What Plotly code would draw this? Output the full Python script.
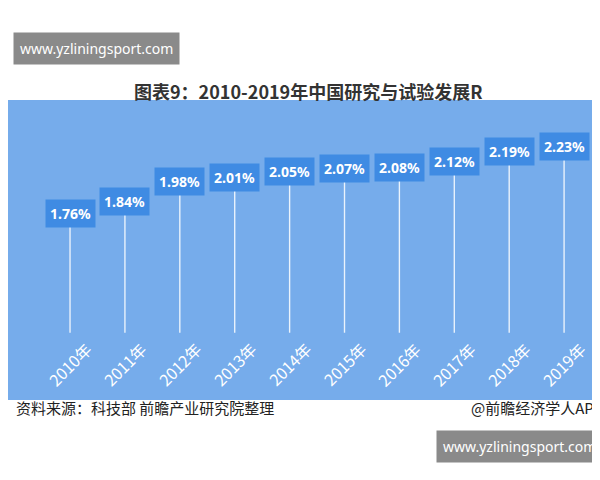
import plotly.graph_objects as go

years = ["2010年","2011年","2012年","2013年","2014年","2015年","2016年","2017年","2018年","2019年"]
values = [1.76,1.84,1.98,2.01,2.05,2.07,2.08,2.12,2.19,2.23]
base = 0.92

fig = go.Figure()
fig.add_trace(go.Bar(x=list(range(10)), y=[v-base for v in values], base=base, width=0.025,
                     marker=dict(color="rgba(255,255,255,0.85)", line_width=0), hoverinfo="skip"))
for i, v in enumerate(values):
    fig.add_annotation(x=i, y=v, text="<b>%.2f%%</b>" % v, showarrow=False, bgcolor="#3f8be3",
                       font=dict(color="white", size=14, family="Noto Sans"), borderpad=4)
    fig.add_annotation(x=i, y=0.7, text=years[i], showarrow=False, textangle=-45,
                       font=dict(color="white", size=16, family="Noto Sans CJK SC"))
fig.add_annotation(xref="paper", yref="paper", x=0.5, y=1.08, text="<b>图表9：2010-2019年中国研究与试验发展R</b>",
                   showarrow=False, font=dict(size=18, color="#333", family="Noto Sans CJK SC"))
fig.add_annotation(xref="paper", yref="paper", x=0.01, y=-0.067, xanchor="left", text="资料来源：科技部 前瞻产业研究院整理",
                   showarrow=False, font=dict(size=15, color="#222", family="Noto Sans CJK SC"))
fig.add_annotation(xref="paper", yref="paper", x=0.995, y=-0.067, xanchor="right", text="@前瞻经济学人APP",
                   showarrow=False, font=dict(size=15, color="#222", family="Noto Sans CJK SC"))
fig.add_annotation(xref="paper", yref="paper", x=0.008, y=1.227, xanchor="left", text="www.yzliningsport.com",
                   showarrow=False, bgcolor="#8a8a8a", borderpad=6, font=dict(size=14, color="white", family="Noto Sans"))
fig.add_annotation(xref="paper", yref="paper", x=0.992, y=-0.21, xanchor="right", text="www.yzliningsport.com",
                   showarrow=False, bgcolor="#8a8a8a", borderpad=6, font=dict(size=14, color="white", family="Noto Sans"))
fig.update_layout(width=600, height=480, margin=dict(l=0, r=0, t=92, b=88),
                  plot_bgcolor="#76aceb", paper_bgcolor="white", showlegend=False,
                  xaxis=dict(range=[-1.13, 9.8], visible=False),
                  yaxis=dict(range=[0.448, 2.553], visible=False))
fig.write_html("out.html")
